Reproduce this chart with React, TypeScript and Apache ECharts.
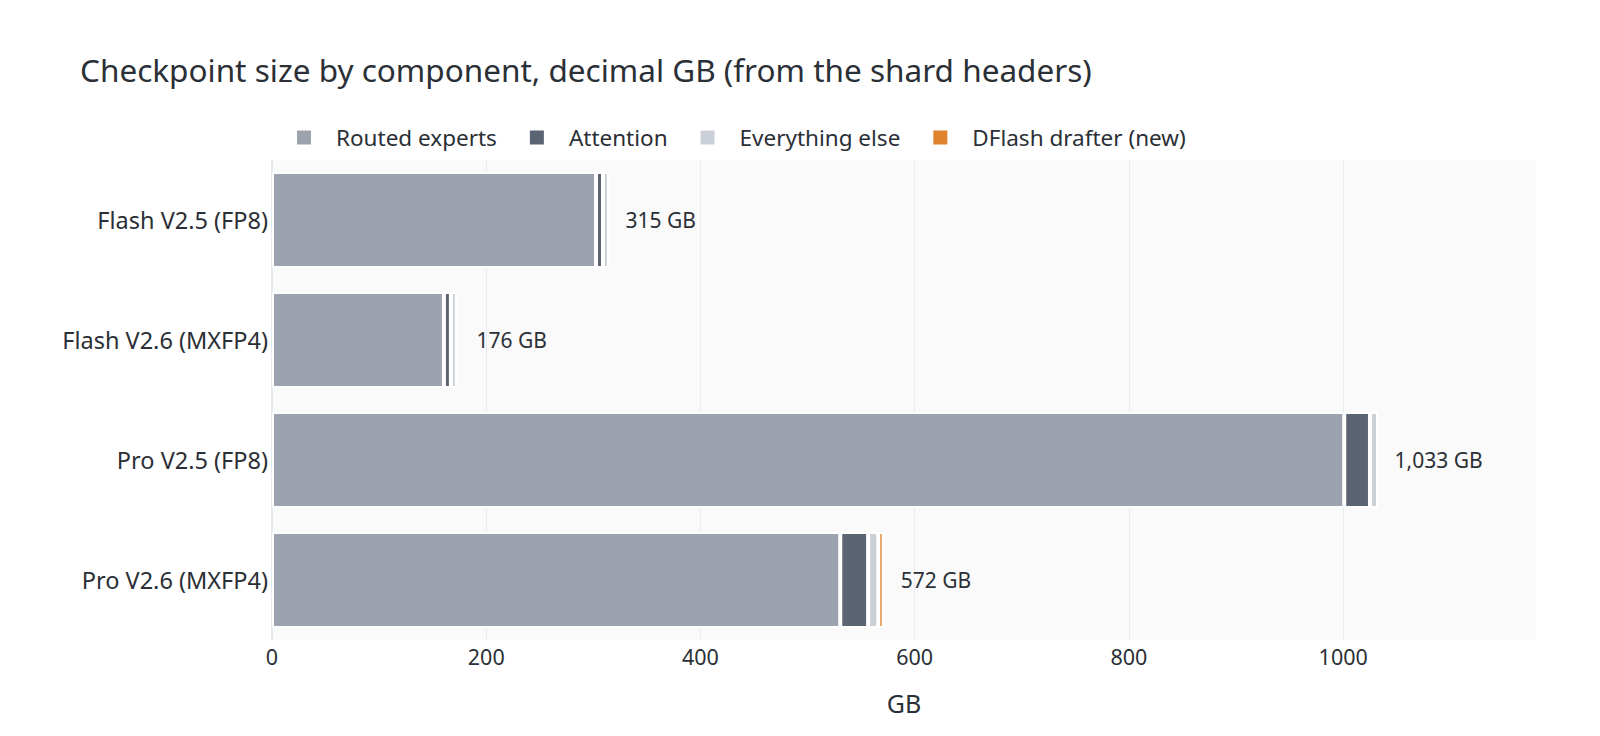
import { useEffect, useRef } from 'react';
import * as echarts from 'echarts';

const categories = ['Flash V2.5 (FP8)', 'Flash V2.6 (MXFP4)', 'Pro V2.5 (FP8)', 'Pro V2.6 (MXFP4)'];
const routedExperts = [302.5, 160.5, 1001, 530.5];
const attention = [6.5, 6.5, 24, 26];
const everythingElse = [5.5, 5.5, 7.5, 9.5];
const dflashDrafter = [null, null, null, 5];
const totals = [315, 176, 1033, 572];

const font = '"Noto Sans", "Open Sans", sans-serif';
const ink = '#2b2f36';

const segment = (name: string, data: (number | null)[], color: string) => ({
  name,
  type: 'bar' as const,
  stack: 'size',
  data,
  barWidth: '80%',
  itemStyle: { color, borderColor: '#fff', borderWidth: 2 },
});

export default function App() {
  const ref = useRef<HTMLDivElement>(null);

  useEffect(() => {
    if (!ref.current) return;
    const chart = echarts.init(ref.current, null, { renderer: 'svg' });
    chart.setOption({
      animation: false,
      textStyle: { fontFamily: font },
      title: {
        text: 'Checkpoint size by component, decimal GB (from the shard headers)',
        left: 80,
        top: 53,
        padding: 0,
        textStyle: { fontFamily: font, fontSize: 31.5, fontWeight: 'normal', color: ink },
      },
      legend: {
        data: ['Routed experts', 'Attention', 'Everything else', 'DFlash drafter (new)'],
        left: 295,
        top: 126,
        padding: 0,
        icon: 'rect',
        itemWidth: 16,
        itemHeight: 16,
        itemGap: 31,
        textStyle: { fontFamily: font, fontSize: 22.5, color: ink, padding: [0, 0, 0, 19] },
      },
      grid: {
        left: 272,
        right: 64,
        top: 160,
        bottom: 96,
        show: true,
        backgroundColor: '#fafafa',
        borderWidth: 0,
      },
      xAxis: {
        type: 'value',
        min: 0,
        max: 1180,
        interval: 200,
        name: 'GB',
        nameLocation: 'middle',
        nameGap: 50,
        nameTextStyle: { fontFamily: font, fontSize: 25, color: ink },
        axisLine: { show: false },
        axisTick: { show: false },
        axisLabel: {
          fontFamily: font,
          fontSize: 21.5,
          color: ink,
          margin: 5,
          showMaxLabel: false,
          formatter: (v: number) => String(v),
        },
        splitLine: {
          showMinLine: false,
          showMaxLine: false,
          lineStyle: { color: '#e8ecf4', width: 1 },
        },
      },
      yAxis: {
        type: 'category',
        data: categories,
        inverse: true,
        axisLine: { show: true, lineStyle: { color: '#e3e8f1', width: 2 } },
        axisTick: { show: false },
        axisLabel: { fontFamily: font, fontSize: 23.5, color: ink, margin: 4 },
      },
      series: [
        segment('Routed experts', routedExperts, '#9ca3af'),
        segment('Attention', attention, '#5b6473'),
        segment('Everything else', everythingElse, '#cbd0d8'),
        segment('DFlash drafter (new)', dflashDrafter, '#e0832f'),
        {
          name: 'total',
          type: 'bar',
          data: totals,
          barWidth: '80%',
          barGap: '-100%',
          silent: true,
          itemStyle: { color: 'transparent' },
          label: {
            show: true,
            position: 'right',
            distance: 16,
            fontFamily: font,
            fontSize: 21,
            color: ink,
            formatter: (p: { dataIndex: number }) =>
              `${totals[p.dataIndex].toLocaleString('en-US')} GB`,
          },
        },
      ],
    });
    return () => chart.dispose();
  }, []);

  return (
    <div
      ref={ref}
      style={{ position: 'fixed', left: 0, top: 0, width: 1600, height: 736, background: '#fff' }}
    />
  );
}
